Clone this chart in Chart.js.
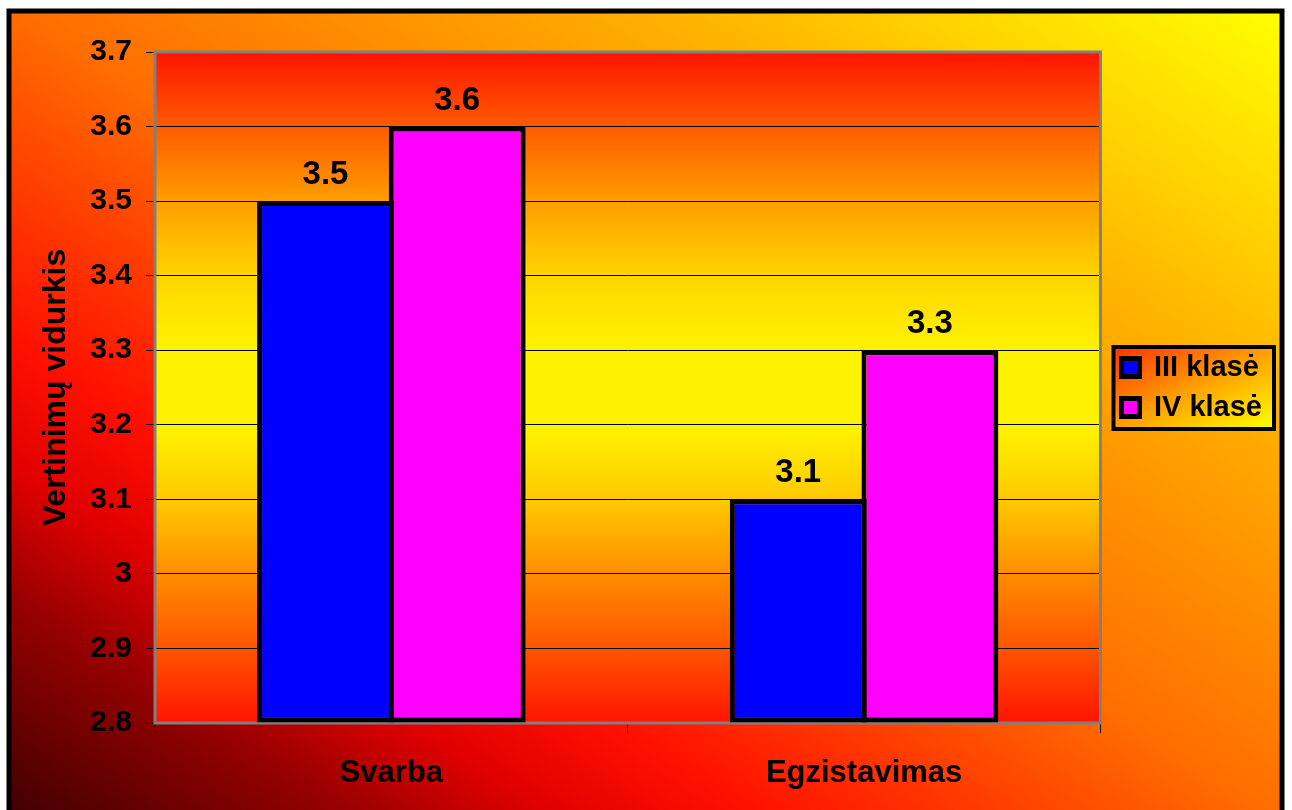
<!DOCTYPE html>
<html>
<head>
<meta charset="utf-8">
<script src="https://cdn.jsdelivr.net/npm/chart.js@4.4.0/dist/chart.umd.min.js"></script>
<style>
  html, body { margin: 0; padding: 0; background: #fff; }
  canvas { display: block; }
</style>
</head>
<body>
<canvas id="canvas" width="1292" height="810"></canvas>
<script>
const categories = ["Svarba", "Egzistavimas"];
const seriesNames = ["III klasė", "IV klasė"];
const klase3 = [3.5, 3.1];
const klase4 = [3.6, 3.3];
const yMin = 2.8;
const yMax = 3.7;
const yStep = 0.1;
const yTitle = "Vertinimų vidurkis";

const colors = {
  blue: "#0000ff",
  magenta: "#ff00ff",
  frame: "#808080",
  black: "#000000"
};
const family = "'Liberation Sans', Arial, Helvetica, sans-serif";

// diagonal fill over a box, like the old office "fire" gradient
function diagonalFill(ctx, x, y, w, h, stops, fromBottom) {
  ctx.save();
  ctx.translate(x, y);
  ctx.scale(w, h);
  const g = fromBottom ? ctx.createLinearGradient(0, 1, 1, 0) : ctx.createLinearGradient(0, 0, 1, 1);
  stops.forEach(s => g.addColorStop(s[0], s[1]));
  ctx.fillStyle = g;
  ctx.fillRect(0, 0, 1, 1);
  ctx.restore();
}

const backgrounds = {
  id: "backgrounds",
  afterLayout(chart) {
    // legend sits a little off the plot area
    chart.legend.left += 10;
    chart.legend.right += 10;
  },
  beforeDraw(chart) {
    const ctx = chart.ctx;
    const a = chart.chartArea;

    // outer panel
    const px = 9, py = 11, pw = 1273, ph = 815;
    diagonalFill(ctx, px, py, pw, ph, [
      [0, "#3c0000"], [0.14, "#960000"], [0.22, "#e00000"], [0.3, "#ff1000"],
      [0.5, "#ff6c00"], [0.75, "#ffb000"], [1, "#ffff00"]
    ], true);
    ctx.save();
    ctx.lineWidth = 5;
    ctx.strokeStyle = colors.black;
    ctx.strokeRect(px, py, pw, ph);
    ctx.restore();

    // plot area
    const g = ctx.createLinearGradient(0, a.top, 0, a.bottom);
    [[0, "#ff1400"], [0.11, "#ff5a00"], [0.22, "#ff9c00"], [0.33, "#ffd400"], [0.44, "#fff200"],
     [0.56, "#fff200"], [0.67, "#ffc800"], [0.78, "#ff8c00"], [0.89, "#ff5400"], [1, "#ff1400"]]
      .forEach(s => g.addColorStop(s[0], s[1]));
    ctx.save();
    ctx.fillStyle = g;
    ctx.fillRect(a.left, a.top, a.right - a.left, a.bottom - a.top);
    ctx.restore();

    // legend box
    const hb = chart.legend.legendHitBoxes;
    if (hb && hb.length) {
      const left = Math.min(...hb.map(b => b.left)) - 8;
      const top = Math.min(...hb.map(b => b.top)) - 6;
      const right = Math.max(...hb.map(b => b.left + b.width)) + 12;
      const bottom = Math.max(...hb.map(b => b.top + b.height)) + 7;
      diagonalFill(ctx, left, top, right - left, bottom - top, [
        [0, "#ff3000"], [0.5, "#ffa000"], [1, "#ffff00"]
      ], false);
      ctx.save();
      ctx.lineWidth = 4;
      ctx.strokeStyle = colors.black;
      ctx.strokeRect(left, top, right - left, bottom - top);
      ctx.restore();
    }
  },
  beforeDatasetsDraw(chart) {
    const ctx = chart.ctx;
    const a = chart.chartArea;
    ctx.save();
    ctx.lineWidth = 3;
    ctx.strokeStyle = colors.frame;
    ctx.strokeRect(a.left, a.top, a.right - a.left, a.bottom - a.top);
    ctx.restore();
  },
  afterDatasetsDraw(chart) {
    const ctx = chart.ctx;
    ctx.save();
    ctx.font = "bold 33px " + family;
    ctx.fillStyle = colors.black;
    ctx.textAlign = "center";
    ctx.textBaseline = "alphabetic";
    chart.data.datasets.forEach((ds, i) => {
      chart.getDatasetMeta(i).data.forEach((bar, j) => {
        ctx.fillText(String(ds.data[j]), bar.x, bar.y - 17);
      });
    });
    ctx.restore();
  }
};

const ctx = document.getElementById("canvas").getContext("2d");

new Chart(ctx, {
  type: "bar",
  data: {
    labels: categories,
    datasets: [
      {
        label: seriesNames[0],
        data: klase3,
        backgroundColor: colors.blue,
        borderColor: colors.black,
        borderWidth: 5,
        borderSkipped: false,
        base: yMin
      },
      {
        label: seriesNames[1],
        data: klase4,
        backgroundColor: colors.magenta,
        borderColor: colors.black,
        borderWidth: 5,
        borderSkipped: false,
        base: yMin
      }
    ]
  },
  options: {
    responsive: false,
    animation: false,
    devicePixelRatio: 1,
    layout: { padding: { left: 37, top: 52, right: 30, bottom: 19 } },
    datasets: { bar: { categoryPercentage: 0.557, barPercentage: 1.04 } },
    scales: {
      x: {
        afterFit: s => { s.height = 68; },
        grid: { display: true, drawOnChartArea: false, drawTicks: true, tickLength: 10, color: colors.black, offset: true },
        border: { display: false },
        ticks: { color: colors.black, padding: 22, font: { family, size: 31, weight: "bold" } }
      },
      y: {
        min: yMin,
        max: yMax,
        afterFit: s => { s.width = 118; },
        ticks: {
          stepSize: yStep,
          color: colors.black,
          padding: 14,
          font: { family, size: 30, weight: "bold" },
          callback: v => String(+v.toFixed(1))
        },
        grid: { color: colors.black, lineWidth: 1, tickLength: 9, tickColor: colors.black },
        border: { display: false },
        title: {
          display: true,
          text: yTitle,
          color: colors.black,
          font: { family, size: 32, weight: "bold" },
          padding: { top: 0, bottom: 20 }
        }
      }
    },
    plugins: {
      legend: {
        position: "right",
        fullSize: false,
        labels: {
          boxWidth: 18,
          boxHeight: 18,
          padding: 11,
          color: colors.black,
          font: { family, size: 29, weight: "bold" }
        }
      },
      tooltip: { enabled: false }
    }
  },
  plugins: [backgrounds]
});
</script>
</body>
</html>
